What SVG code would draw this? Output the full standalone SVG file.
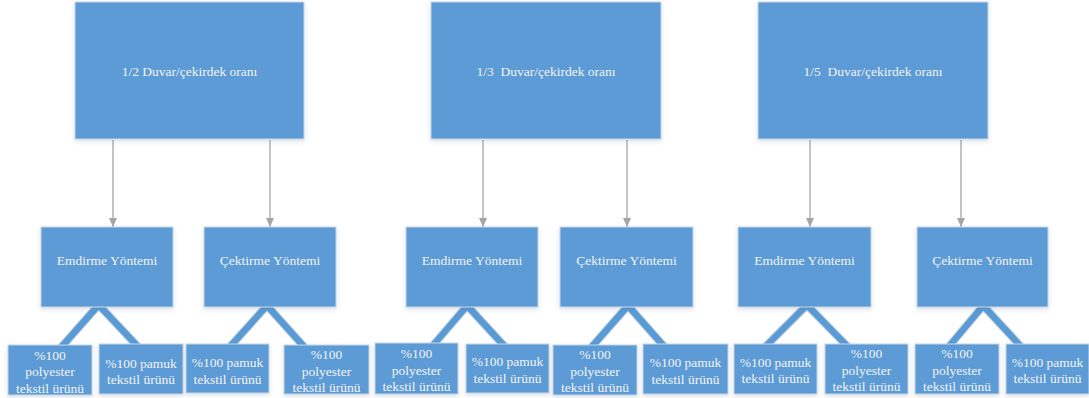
<svg xmlns="http://www.w3.org/2000/svg" width="1089" height="398" viewBox="0 0 1089 398">
<style>
.box{fill:#5b9bd5;stroke:#c9d6e3;stroke-width:1;filter:url(#sh)}
.t{font-family:"Liberation Serif","Times New Roman",serif;font-size:13.5px;fill:#f3f3f3;text-anchor:middle;white-space:pre}
.arr{stroke:#a5a5a5;stroke-width:1.3;fill:none;marker-end:url(#ah)}
.band{stroke:#5b9bd5;stroke-width:6.5;fill:none}
.bando{stroke:#c9d8e8;stroke-width:8.5;fill:none}
</style>
<defs>
<filter id="sh" x="-10%" y="-10%" width="120%" height="130%">
<feDropShadow dx="0" dy="2" stdDeviation="2" flood-color="#3a5a80" flood-opacity="0.18"/>
</filter>
<marker id="ah" markerWidth="9" markerHeight="8" refX="9" refY="4" orient="auto" markerUnits="userSpaceOnUse" viewBox="0 0 9 8">
<path d="M0,0 L9,4 L0,8 Z" fill="#a5a5a5"/>
</marker>
</defs>
<rect width="1089" height="398" fill="#ffffff"/>
<g id="connectors">
<path class="arr" d="M113,140 V227"/>
<path class="arr" d="M270,140 V227"/>
<path class="arr" d="M483,140 V227"/>
<path class="arr" d="M627,140 V227"/>
<path class="arr" d="M810,140 V227"/>
<path class="arr" d="M961,140 V227"/>
<g>
<path class="bando" d="M103,300 L57,352 M94,300 L143,352"/>
<path class="band" d="M103,300 L57,352 M94,300 L143,352"/>
<path class="bando" d="M272,300 L227,350 M262,300 L307,350"/>
<path class="band" d="M272,300 L227,350 M262,300 L307,350"/>
<path class="bando" d="M472,300 L429,350 M462,300 L508,350"/>
<path class="band" d="M472,300 L429,350 M462,300 L508,350"/>
<path class="bando" d="M633,300 L589,350 M623,300 L669,352"/>
<path class="band" d="M633,300 L589,350 M623,300 L669,352"/>
<path class="bando" d="M812,300 L762,350 M802,300 L853,352"/>
<path class="band" d="M812,300 L762,350 M802,300 L853,352"/>
<path class="bando" d="M988,300 L946,350 M978,300 L1026,352"/>
<path class="band" d="M988,300 L946,350 M978,300 L1026,352"/>
</g>
</g>
<g id="top1"><rect class="box" x="75" y="2" width="229" height="137"/><text class="t" x="189.5" y="76">1/2 Duvar/çekirdek oranı</text></g>
<g id="top2"><rect class="box" x="431" y="2" width="230" height="137"/><text class="t" x="546" y="76">1/3  Duvar/çekirdek oranı</text></g>
<g id="top3"><rect class="box" x="758" y="2" width="230" height="137"/><text class="t" x="873" y="76">1/5  Duvar/çekirdek oranı</text></g>

<g id="midA"><rect class="box" x="41" y="227" width="132" height="80"/><text class="t" x="107" y="264.5">Emdirme Yöntemi</text></g>
<g id="midB"><rect class="box" x="204" y="227" width="132" height="80"/><text class="t" x="270" y="264.5">Çektirme Yöntemi</text></g>
<g id="midC"><rect class="box" x="406" y="227" width="132" height="80"/><text class="t" x="472" y="264.5">Emdirme Yöntemi</text></g>
<g id="midD"><rect class="box" x="560" y="227" width="133" height="80"/><text class="t" x="626.5" y="264.5">Çektirme Yöntemi</text></g>
<g id="midE"><rect class="box" x="738" y="227" width="133" height="80"/><text class="t" x="804.5" y="264.5">Emdirme Yöntemi</text></g>
<g id="midF"><rect class="box" x="917" y="227" width="131" height="80"/><text class="t" x="982.5" y="264.5">Çektirme Yöntemi</text></g>

<g id="leaf1"><rect class="box" x="8" y="345" width="84" height="50"/><text class="t" x="50" y="359.5">%100</text><text class="t" x="50" y="376">polyester</text><text class="t" x="50" y="392.5">tekstil ürünü</text></g>
<g id="leaf2"><rect class="box" x="99" y="344" width="84" height="50"/><text class="t" x="141" y="367.5">%100 pamuk</text><text class="t" x="141" y="384">tekstil ürünü</text></g>
<g id="leaf3"><rect class="box" x="186" y="344" width="83" height="49"/><text class="t" x="227.5" y="367">%100 pamuk</text><text class="t" x="227.5" y="383.5">tekstil ürünü</text></g>
<g id="leaf4"><rect class="box" x="284" y="345" width="85" height="49"/><text class="t" x="326.5" y="359">%100</text><text class="t" x="326.5" y="375.5">polyester</text><text class="t" x="326.5" y="392">tekstil ürünü</text></g>
<g id="leaf5"><rect class="box" x="375" y="343" width="83" height="51"/><text class="t" x="416.5" y="358">%100</text><text class="t" x="416.5" y="374.5">polyester</text><text class="t" x="416.5" y="391">tekstil ürünü</text></g>
<g id="leaf6"><rect class="box" x="466" y="344" width="83" height="49"/><text class="t" x="507.5" y="366">%100 pamuk</text><text class="t" x="507.5" y="382.5">tekstil ürünü</text></g>
<g id="leaf7"><rect class="box" x="553" y="345" width="84" height="50"/><text class="t" x="595" y="359">%100</text><text class="t" x="595" y="375.5">polyester</text><text class="t" x="595" y="392">tekstil ürünü</text></g>
<g id="leaf8"><rect class="box" x="643" y="344" width="85" height="50"/><text class="t" x="685.5" y="367">%100 pamuk</text><text class="t" x="685.5" y="383.5">tekstil ürünü</text></g>
<g id="leaf9"><rect class="box" x="734" y="344" width="83" height="50"/><text class="t" x="775.5" y="366.5">%100 pamuk</text><text class="t" x="775.5" y="383">tekstil ürünü</text></g>
<g id="leaf10"><rect class="box" x="825" y="344" width="83" height="50"/><text class="t" x="866.5" y="358">%100</text><text class="t" x="866.5" y="374.5">polyester</text><text class="t" x="866.5" y="391">tekstil ürünü</text></g>
<g id="leaf11"><rect class="box" x="915" y="344" width="84" height="50"/><text class="t" x="957" y="358">%100</text><text class="t" x="957" y="374.5">polyester</text><text class="t" x="957" y="391">tekstil ürünü</text></g>
<g id="leaf12"><rect class="box" x="1006" y="344" width="83" height="50"/><text class="t" x="1047.5" y="366.5">%100 pamuk</text><text class="t" x="1047.5" y="383">tekstil ürünü</text></g>
</svg>
